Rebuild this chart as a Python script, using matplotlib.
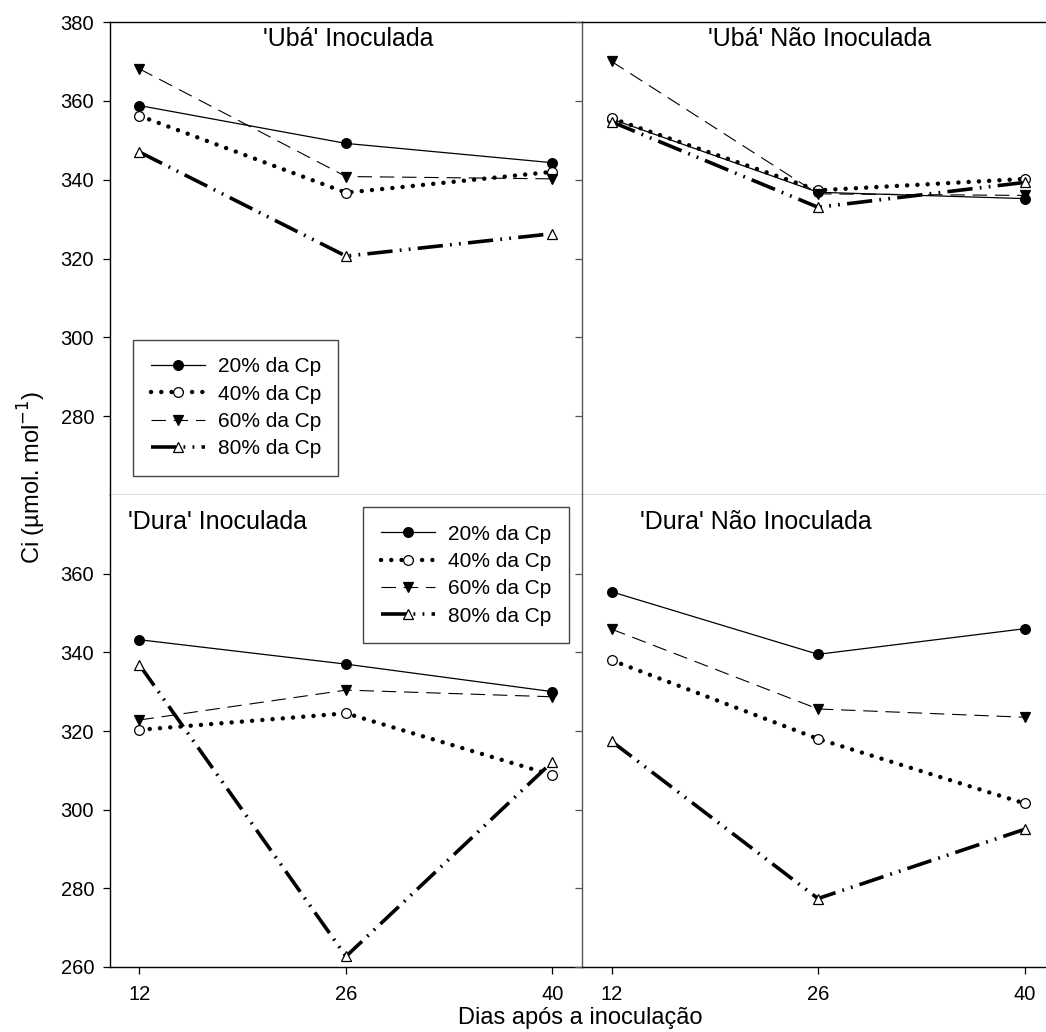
import matplotlib
matplotlib.use("Agg")
import matplotlib.pyplot as plt

plt.rcParams["font.family"] = ["Liberation Sans", "DejaVu Sans"]

days = [12, 26, 40]
levels = ["20% da Cp", "40% da Cp", "60% da Cp", "80% da Cp"]

# Ci per panel, one list per water level (20, 40, 60, 80 % da Cp)
uba_inoc = [
    [358.8, 349.2, 344.3],
    [356.2, 336.7, 342.0],
    [368.1, 340.8, 340.2],
    [347.0, 320.6, 326.3],
]
uba_nao = [
    [355.4, 336.8, 335.2],
    [355.6, 337.3, 340.2],
    [370.0, 336.4, 336.0],
    [354.7, 333.0, 339.3],
]
dura_inoc = [
    [343.2, 337.0, 330.0],
    [320.3, 324.5, 308.8],
    [322.8, 330.4, 328.7],
    [336.8, 262.7, 312.2],
]
dura_nao = [
    [355.4, 339.5, 346.0],
    [338.0, 318.0, 301.6],
    [345.9, 325.6, 323.5],
    [317.4, 277.4, 295.0],
]

STYLES = [
    dict(ls="-", lw=0.9, marker="o", mfc="black", ms=7),
    dict(ls=(0, (0.01, 2.3)), lw=3.2, marker="o", mfc="white", ms=7,
         dash_capstyle="round"),
    dict(ls=(0, (13, 7)), lw=0.8, marker="v", mfc="black", ms=7.5),
    dict(ls=(0, (7, 2, 0.5, 2, 0.5, 2)), lw=2.6, marker="^", mfc="white", ms=7.5),
]

W, H = 1046, 1032
fig = plt.figure(figsize=(W / 100, H / 100), dpi=100)


def px_axes(x0, y0, x1, y1):
    return fig.add_axes([x0 / W, 1 - y1 / H, (x1 - x0) / W, (y1 - y0) / H])


ax_tl = px_axes(110, 22, 582, 495)
ax_tr = px_axes(582, 22, 1046, 495)
ax_bl = px_axes(110, 495, 582, 967)
ax_br = px_axes(582, 495, 1046, 967)

panels = [
    (ax_tl, uba_inoc, "'Ubá' Inoculada", (0.505, 0.964, "center")),
    (ax_tr, uba_nao, "'Ubá' Não Inoculada", (0.513, 0.964, "center")),
    (ax_bl, dura_inoc, "'Dura' Inoculada", (0.038, 0.943, "left")),
    (ax_br, dura_nao, "'Dura' Não Inoculada", (0.125, 0.943, "left")),
]

GRAY = "#555555"
for ax, data, title, (tx, ty, ha) in panels:
    for vals, st, lbl in zip(data, STYLES, levels):
        ax.plot(days, vals, color="black", mec="black", mew=0.9, label=lbl, **st)
    ax.set_ylim(260, 380)
    ax.text(tx, ty, title, transform=ax.transAxes, ha=ha, va="center", fontsize=18)
    ax.set_xticks(days)
    ax.tick_params(direction="out", length=5, width=0.9, labelsize=14.5, color=GRAY)
    ax.tick_params(axis="x", pad=8)
    ax.tick_params(axis="y", pad=6.5)
    for s in ax.spines.values():
        s.set_linewidth(1.0)

# x-limits: right column runs past the figure edge
for ax in (ax_tl, ax_bl):
    ax.set_xlim(10, 42)
for ax in (ax_tr, ax_br):
    ax.set_xlim(10, 10 + 464 / 14.75)
    ax.spines["right"].set_visible(False)
    ax.spines["left"].set_color(GRAY)
    ax.tick_params(labelleft=False)
for ax in (ax_tl, ax_tr):
    ax.set_yticks([280, 300, 320, 340, 360, 380])
    ax.tick_params(labelbottom=False)
    ax.spines["bottom"].set_color(GRAY)
    ax.spines["top"].set_color("black")
for ax in (ax_bl, ax_br):
    ax.set_yticks([260, 280, 300, 320, 340, 360])
    ax.spines["top"].set_visible(False)
for ax in (ax_tl, ax_bl):
    ax.spines["right"].set_visible(False)
    ax.tick_params(axis="y", color="black")
for ax in (ax_bl, ax_br):
    ax.tick_params(axis="x", color="black")

leg_kw = dict(fontsize=15, frameon=True, fancybox=False, framealpha=1,
              edgecolor="#444444", borderaxespad=0, handlelength=2.6,
              labelspacing=0.4, borderpad=0.85, handletextpad=0.6)
lg1 = ax_tl.legend(loc="lower left", bbox_to_anchor=(0.049, 0.040), **leg_kw)
lg2 = ax_bl.legend(loc="upper right", bbox_to_anchor=(0.972, 0.975), **leg_kw)
for lg in (lg1, lg2):
    lg.get_frame().set_linewidth(1.0)

fig.text(32 / W, 1 - 477 / H, "Ci (µmol. mol$^{-1}$)", rotation=90,
         ha="center", va="center", fontsize=17)
fig.text(580 / W, 1 - 1018 / H, "Dias após a inoculação", ha="center",
         va="center", fontsize=17)

fig.savefig("out.png", dpi=100)
